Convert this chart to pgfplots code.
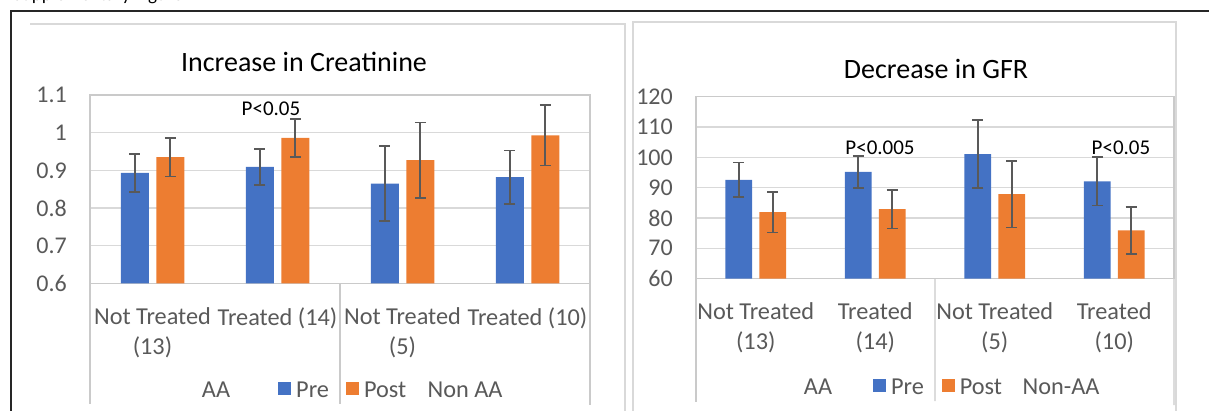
\documentclass[border=0pt]{standalone}
\usepackage{fontspec}
\setmainfont{Carlito}
\usepackage{pgfplots}
\pgfplotsset{compat=1.18}

\definecolor{cblue}{HTML}{4472C4}
\definecolor{corange}{HTML}{ED7D31}
\definecolor{gridc}{HTML}{D9D9D9}
\definecolor{axc}{HTML}{CACACA}
\definecolor{txt}{HTML}{595959}
\definecolor{errc}{HTML}{595959}

\newcommand{\lab}{\fontsize{24.3}{30}\selectfont}
\newcommand{\tck}{\fontsize{24}{30}\selectfont}
\newcommand{\ttl}{\fontsize{28}{34}\selectfont}
\newcommand{\pfont}{\fontsize{21}{25}\selectfont}

\pgfplotsset{
  common/.style={
    scale only axis,
    anchor=south west,
    xmin=-0.5, xmax=3.5,
    xtick={0,1,2,3},
    major tick length=0pt,
    ymajorgrids,
    grid style={gridc, line width=1.2pt},
    axis line style={axc, line width=1.2pt},
    /pgf/number format/assume math mode=true,
    yticklabel style={font=\tck, text=txt, inner sep=0pt, xshift=-23pt},
    xticklabel style={font=\lab, text=txt, inner sep=0pt, align=center, anchor=north, yshift=-24pt},
    ybar, bar width=0.224,
    error bars/error bar style={errc, line width=1.6pt},
    error bars/error mark options={rotate=90, mark size=5.5pt, errc, line width=1.6pt},
  },
  pre/.style={fill=cblue, draw=none, bar shift=-0.142,
    error bars/.cd, y dir=both, y explicit},
  post/.style={fill=corange, draw=none, bar shift=0.142,
    error bars/.cd, y dir=both, y explicit},
}

\begin{document}
\begin{tikzpicture}
\useasboundingbox (0,0) rectangle (1209pt,410pt);
\clip (0,0) rectangle (1209pt,410pt);

% cut-off caption text at top of page (only descenders visible)
\node[anchor=base west, inner sep=0pt, font=\fontsize{19}{22}\selectfont] at (13pt,409pt) {Supplementary Figure};

% outer black frame
\draw[black!85, line width=1.3pt] (11pt,-5pt) -- (11pt,399pt) -- (1215pt,399pt);
% chart frames
\draw[gridc, line width=1.3pt] (30pt,386pt) -- (625pt,386pt) -- (625pt,-5pt);
\draw[gridc, line width=1.3pt] (633pt,-5pt) -- (633pt,388pt) -- (1176pt,388pt) -- (1176pt,-5pt);

% ---------------- Left chart ----------------
\begin{axis}[common, name=L,
  at={(90pt,126.7pt)}, width=500pt, height=188.3pt,
  ymin=0.6, ymax=1.1, ytick={0.6,0.7,0.8,0.9,1,1.1},
  xticklabels={{Not Treated\\(13)},{Treated (14)},{Not Treated\\(5)},{Treated (10)}},
  legend style={draw=none, fill=none, inner sep=0pt, legend columns=2, font=\lab, text=txt,
    nodes={inner sep=0pt},
    /tikz/every odd column/.append style={column sep=5pt},
    /tikz/every even column/.append style={column sep=17pt},
    at={(0.376,-0.5667)}, anchor=west},
  legend image code/.code={\fill[#1] (0pt,-5pt) rectangle (13pt,8pt);},
]
\addplot[pre] coordinates {(0,0.893) +- (0,0.050) (1,0.909) +- (0,0.048) (2,0.865) +- (0,0.100) (3,0.882) +- (0,0.071)};
\addplot[post] coordinates {(0,0.935) +- (0,0.051) (1,0.986) +- (0,0.050) (2,0.927) +- (0,0.100) (3,0.993) +- (0,0.080)};
\legend{Pre,Post}
\node[font=\pfont, inner sep=0pt] at (axis cs:0.948,1.063) {P<0.05};
\end{axis}
\draw[axc, line width=1.2pt] (L.south west) -- (90pt,6pt);
\draw[axc, line width=1.2pt] (L.south) -- (340pt,6pt);
\draw[axc, line width=1.2pt] (L.south east) -- (590pt,5pt);
\node[font=\ttl] at (304pt,348pt) {Increase in Creatinine};
\node[font=\lab, text=txt] at (216pt,20pt) {AA};
\node[font=\lab, text=txt] at (465pt,20pt) {Non AA};

% ---------------- Right chart ----------------
\begin{axis}[common, name=R,
  at={(696pt,131.5pt)}, width=478pt, height=181.7pt,
  ymin=60, ymax=120, ytick={60,70,80,90,100,110,120},
  xticklabels={{Not Treated\\(13)},{Treated\\(14)},{Not Treated\\(5)},{Treated\\(10)}},
  legend style={draw=none, fill=none, inner sep=0pt, legend columns=2, font=\lab, text=txt,
    nodes={inner sep=0pt},
    /tikz/every odd column/.append style={column sep=5pt},
    /tikz/every even column/.append style={column sep=18pt},
    at={(0.370,-0.597)}, anchor=west},
  legend image code/.code={\fill[#1] (0pt,-5pt) rectangle (13pt,8pt);},
]
\addplot[pre] coordinates {(0,92.6) +- (0,5.65) (1,95.2) +- (0,5.3) (2,101.1) +- (0,11.3) (3,92.1) +- (0,8.0)};
\addplot[post] coordinates {(0,81.9) +- (0,6.7) (1,82.9) +- (0,6.35) (2,87.9) +- (0,11.0) (3,75.9) +- (0,7.75)};
\legend{Pre,Post}
\node[font=\pfont, inner sep=0pt] at (axis cs:1.04,103.2) {P<0.005};
\node[font=\pfont, inner sep=0pt] at (axis cs:3.056,103.2) {P<0.05};
\end{axis}
\draw[axc, line width=1.2pt] (R.south west) -- (696pt,8.5pt);
\draw[axc, line width=1.2pt] (R.south) -- (935pt,9pt);
\draw[axc, line width=1.2pt] (R.south east) -- (1174pt,5pt);
\node[font=\ttl] at (936pt,341pt) {Decrease in GFR};
\node[font=\lab, text=txt] at (818pt,23pt) {AA};
\node[font=\lab, text=txt] at (1061pt,23pt) {Non-AA};
\end{tikzpicture}
\end{document}
